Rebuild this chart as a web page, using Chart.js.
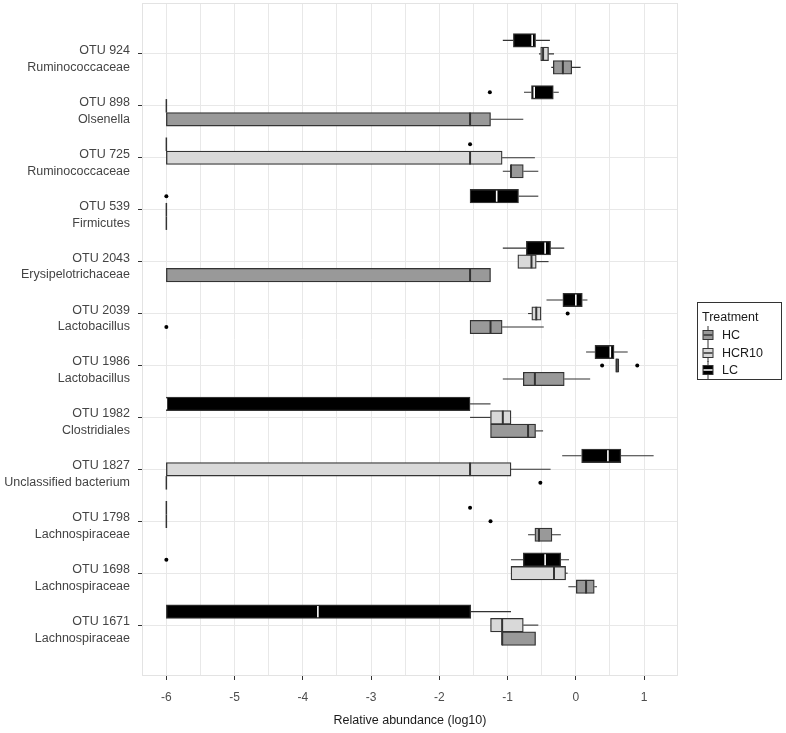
<!DOCTYPE html>
<html>
<head>
<meta charset="utf-8">
<script src="https://cdn.jsdelivr.net/npm/chart.js@4.4.1/dist/chart.umd.min.js"></script>
<style>
  body { margin: 0; background: #fff; font-family: "Liberation Sans", Arial, sans-serif; }
  #wrap { position: relative; width: 786px; height: 733px; }
  #legend { position: absolute; left: 697px; top: 302px; width: 85px; height: 78px;
            border: 1px solid #333; box-sizing: border-box; font-size: 12.5px; color: #1a1a1a; }
  #legend .ttl { position: absolute; left: 4px; top: 7px; }
  #legend .row { position: absolute; left: 4px; height: 18px; line-height: 18px; }
  #legend svg { position: absolute; left: 0; top: 0; }
  #legend .row span { position: absolute; left: 20px; top: 0; white-space: nowrap; }
</style>
</head>
<body>
<div id="wrap">
  <canvas id="myChart" width="786" height="733"></canvas>
  <div id="legend"></div>
</div>
<script>
// categories (top to bottom)
var categories = [
  ['OTU 924', 'Ruminococcaceae'], ['OTU 898', 'Olsenella'], ['OTU 725', 'Ruminococcaceae'],
  ['OTU 539', 'Firmicutes'], ['OTU 2043', 'Erysipelotrichaceae'], ['OTU 2039', 'Lactobacillus'],
  ['OTU 1986', 'Lactobacillus'], ['OTU 1982', 'Clostridiales'], ['OTU 1827', 'Unclassified bacterium'],
  ['OTU 1798', 'Lachnospiraceae'], ['OTU 1698', 'Lachnospiraceae'], ['OTU 1671', 'Lachnospiraceae']
];
var treatments = ['HC', 'HCR10', 'LC'];
var xTickValues = [-6, -5, -4, -3, -2, -1, 0, 1];

// [min, q1, median, q3, max] per category, log10 relative abundance
var hcStats = [
  [-0.36, -0.33, -0.19, -0.06, 0.07],
  [-6, -6, -1.55, -1.25, -0.77],
  [-1.07, -0.95, -0.95, -0.77, -0.55],
  [-6, -6, -6, -6, -6],
  [-6, -6, -1.55, -1.25, -1.25],
  [-1.55, -1.55, -1.25, -1.08, -0.47],
  [-1.07, -0.77, -0.6, -0.17, 0.21],
  [-1.25, -1.25, -0.70, -0.59, -0.48],
  [-6, -6, -6, -6, -6],
  [-0.70, -0.60, -0.54, -0.35, -0.22],
  [-0.11, 0.0, 0.15, 0.27, 0.31],
  [-1.08, -1.08, -1.08, -0.59, -0.59]
];
var hcOutliers = [[], [], [], [], [], [-6], [], [], [-0.52], [], [], []];

var hcr10Stats = [
  [-0.54, -0.515, -0.48, -0.40, -0.32],
  [-6, -6, -6, -6, -6],
  [-6, -6, -1.55, -1.08, -0.6],
  [-6, -6, -6, -6, -6],
  [-0.85, -0.85, -0.65, -0.58, -0.40],
  [-0.70, -0.645, -0.58, -0.51, -0.51],
  [0.585, 0.585, 0.60, 0.63, 0.63],
  [-1.55, -1.25, -1.07, -0.95, -0.95],
  [-6, -6, -1.55, -0.95, -0.37],
  [-6, -6, -6, -6, -6],
  [-0.95, -0.95, -0.32, -0.15, -0.12],
  [-1.25, -1.25, -1.08, -0.77, -0.55]
];
var hcr10Outliers = [[], [], [], [], [], [-0.12], [0.385, 0.90], [], [], [-1.25], [], []];

var lcStats = [
  [-1.07, -0.915, -0.64, -0.59, -0.38],
  [-0.76, -0.65, -0.61, -0.33, -0.25],
  [-6, -6, -6, -6, -6],
  [-1.55, -1.55, -1.16, -0.84, -0.55],
  [-1.07, -0.725, -0.45, -0.37, -0.17],
  [-0.43, -0.19, 0.0, 0.095, 0.17],
  [0.15, 0.28, 0.505, 0.56, 0.76],
  [-6, -6, -6, -1.55, -1.25],
  [-0.2, 0.085, 0.47, 0.66, 1.14],
  [-6, -6, -6, -6, -6],
  [-0.95, -0.77, -0.45, -0.22, -0.10],
  [-6, -6, -3.78, -1.54, -0.95]
];
var lcOutliers = [[], [-1.26], [-1.55], [-6], [], [], [], [], [], [-1.55], [-6], []];

var fills = { HC: '#999999', HCR10: '#d9d9d9', LC: '#000000' };
var medianColors = { HC: '#333333', HCR10: '#333333', LC: '#ffffff' };
var lineCol = '#333333';

// top to bottom within a category: LC, HCR10, HC
var series = [
  { name: 'LC', stats: lcStats, outliers: lcOutliers },
  { name: 'HCR10', stats: hcr10Stats, outliers: hcr10Outliers },
  { name: 'HC', stats: hcStats, outliers: hcOutliers }
];

function boxData(stats) {
  return stats.map(function(s, i) { return { y: i, x: [s[1], s[3]] }; });
}

// whiskers, medians, collapsed boxes and outliers
var boxExtras = {
  id: 'boxExtras',
  beforeDatasetsDraw: function(chart) {
    var ctx = chart.ctx, a = chart.chartArea, xs = chart.scales.x;
    ctx.save();
    ctx.strokeStyle = '#e3e3e3';
    ctx.lineWidth = 1;
    ctx.strokeRect(a.left + 0.5, a.top + 0.5, a.right - a.left - 1, a.bottom - a.top - 1);
    ctx.strokeStyle = lineCol;
    ctx.lineWidth = 1.1;
    series.forEach(function(s, di) {
      chart.getDatasetMeta(di).data.forEach(function(bar, i) {
        var st = s.stats[i];
        ctx.beginPath();
        ctx.moveTo(xs.getPixelForValue(st[0]), bar.y);
        ctx.lineTo(xs.getPixelForValue(st[1]), bar.y);
        ctx.moveTo(xs.getPixelForValue(st[3]), bar.y);
        ctx.lineTo(xs.getPixelForValue(st[4]), bar.y);
        ctx.stroke();
      });
    });
    ctx.restore();
  },
  afterDatasetsDraw: function(chart) {
    var ctx = chart.ctx, xs = chart.scales.x;
    ctx.save();
    series.forEach(function(s, di) {
      chart.getDatasetMeta(di).data.forEach(function(bar, i) {
        var st = s.stats[i];
        var h = bar.height;
        if (st[1] === st[3]) {
          ctx.strokeStyle = lineCol;
          ctx.lineWidth = 1.5;
          var px = xs.getPixelForValue(st[1]);
          ctx.beginPath();
          ctx.moveTo(px, bar.y - h / 2);
          ctx.lineTo(px, bar.y + h / 2);
          ctx.stroke();
        } else {
          var mx = xs.getPixelForValue(st[2]);
          var inset = s.name === 'LC' ? 1.2 : 0;
          ctx.strokeStyle = medianColors[s.name];
          ctx.lineWidth = s.name === 'LC' ? 1.6 : 2;
          ctx.beginPath();
          ctx.moveTo(mx, bar.y - h / 2 + inset);
          ctx.lineTo(mx, bar.y + h / 2 - inset);
          ctx.stroke();
        }
        ctx.fillStyle = '#000';
        s.outliers[i].forEach(function(v) {
          ctx.beginPath();
          ctx.arc(xs.getPixelForValue(v), bar.y, 2, 0, Math.PI * 2);
          ctx.fill();
        });
      });
    });
    ctx.restore();
  }
};

function createChart() {
  Chart.defaults.font.family = '"Liberation Sans", Arial, sans-serif';
  var ctx = document.getElementById('myChart').getContext('2d');
  new Chart(ctx, {
    type: 'bar',
    data: {
      datasets: series.map(function(s) {
        return {
          label: s.name,
          data: boxData(s.stats),
          backgroundColor: fills[s.name],
          borderColor: lineCol,
          borderWidth: 1.3,
          borderSkipped: false,
          barThickness: 13.5
        };
      })
    },
    options: {
      indexAxis: 'y',
      responsive: false,
      animation: false,
      devicePixelRatio: 1,
      layout: { padding: { top: 3, right: 108, bottom: 0, left: 0 } },
      plugins: { legend: { display: false }, tooltip: { enabled: false } },
      scales: {
        x: {
          type: 'linear',
          min: -6.357,
          max: 1.497,
          afterBuildTicks: function(scale) {
            var t = [];
            for (var v = -6; v <= 1; v += 0.5) t.push({ value: v });
            scale.ticks = t;
          },
          afterFit: function(scale) { scale.height = 57; },
          border: { display: false },
          grid: {
            color: '#e8e8e8',
            lineWidth: 1,
            tickLength: 4,
            tickColor: function(c) {
              return c.tick && xTickValues.indexOf(c.tick.value) !== -1 ? '#333' : 'rgba(0,0,0,0)';
            }
          },
          ticks: {
            autoSkip: false,
            maxRotation: 0,
            padding: 10,
            color: '#4d4d4d',
            font: { size: 12 },
            callback: function(v) { return xTickValues.indexOf(v) !== -1 ? String(v) : ''; }
          },
          title: {
            display: true,
            text: 'Relative abundance (log10)',
            color: '#1a1a1a',
            font: { size: 12.5 },
            padding: { top: 0, bottom: 5 }
          }
        },
        y: {
          type: 'linear',
          reverse: true,
          offset: false,
          min: -0.98,
          max: 11.98,
          afterBuildTicks: function(scale) {
            scale.ticks = categories.map(function(c, i) { return { value: i }; });
          },
          afterFit: function(scale) {
            scale.width = 142;
            scale.paddingTop = 0;
            scale.paddingBottom = 0;
          },
          border: { display: false },
          grid: { offset: false, color: '#e8e8e8', lineWidth: 1, tickLength: 4, tickColor: '#333' },
          ticks: {
            autoSkip: false,
            padding: 8,
            labelOffset: 5,
            color: '#444',
            font: { size: 12.5, lineHeight: 1.35 },
            callback: function(v) { return categories[v]; }
          }
        }
      }
    },
    plugins: [boxExtras]
  });
}

function buildLegend() {
  var el = document.getElementById('legend');
  var html = '<div class="ttl">Treatment</div>';
  treatments.forEach(function(t, i) {
    var med = t === 'LC' ? '#fff' : '#333';
    html += '<div class="row" style="top:' + (23 + i * 17.5) + 'px">' +
      '<svg width="12" height="18"><line x1="6" y1="0" x2="6" y2="18" stroke="#333" stroke-width="1"/>' +
      '<rect x="1" y="4.5" width="10" height="9" fill="' + fills[t] + '" stroke="#333" stroke-width="1"/>' +
      '<line x1="1.5" y1="9" x2="10.5" y2="9" stroke="' + med + '" stroke-width="1.5"/></svg>' +
      '<span>' + t + '</span></div>';
  });
  el.innerHTML = html;
}

createChart();
buildLegend();
</script>
</body>
</html>
